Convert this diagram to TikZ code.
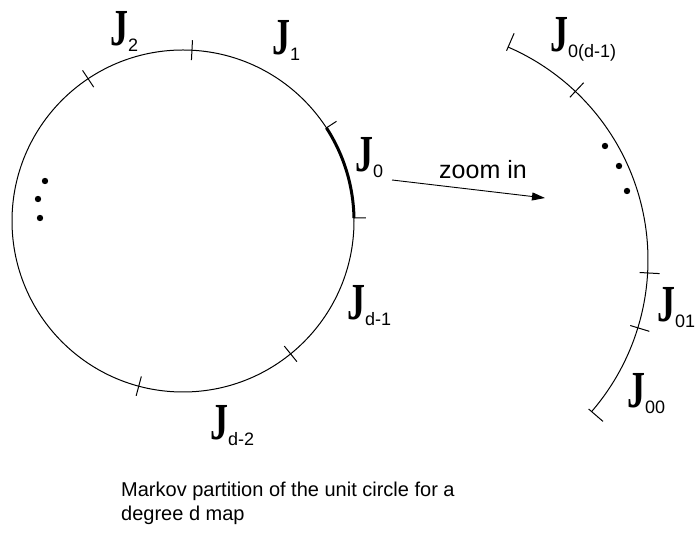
\documentclass[tikz,border=0pt]{standalone}
\usepackage{fontspec}
\setmainfont{Liberation Sans}
\newfontfamily\PieceFont{Liberation Serif}
\usetikzlibrary{positioning,calc,arrows.meta}
\newcommand{\PieceLabel}[1]{\scalebox{0.9}[1.3]{\PieceFont\bfseries\fontsize{40}{40}\selectfont J}\lower6pt\hbox{\fontsize{18}{18}\selectfont #1}}
\newcommand{\ZoomText}{zoom in}
\newcommand{\CaptionText}{Markov partition of the unit circle for a\\degree d map}
\def\UnitRadius{171}
\def\ZoomRadius{232}
\tikzset{
  rim/.style={line width=1pt},
  piece/.style={line width=3pt},
  tickmark/.style={line width=1pt},
  partlabel/.style={anchor=base west,inner sep=0pt},
  dotmark/.style={fill=black},
  signal/.style={-{Triangle[length=13pt,width=8pt]},line width=0.9pt}
}

\begin{document}
\begin{tikzpicture}[x=1pt,y=1pt]
  \useasboundingbox (0,0) rectangle (697,535);
  \coordinate (unit) at (183,314);
  \coordinate (zoom) at (416,275);

  % unit circle with the partition points
  \draw[rim] (unit) circle[radius=\UnitRadius];
  \draw[piece] ([shift={(1:\UnitRadius)}]unit) arc[start angle=1,end angle=33,radius=\UnitRadius];
  \foreach \a in {87,123.7,-51,-105}
    \draw[tickmark] ([shift={(\a:\UnitRadius-10)}]unit) -- ([shift={(\a:\UnitRadius+10)}]unit);
  \foreach \a in {1,33}
    \draw[tickmark] ([shift={(\a:\UnitRadius)}]unit) -- ([shift={(\a:\UnitRadius+12)}]unit);
  \foreach \p in {(45,354),(38,336),(40,317)}
    \fill[dotmark] \p circle[radius=3.2];

  % magnified piece J_0
  \draw[rim] ([shift={(-40.8:\ZoomRadius)}]zoom) arc[start angle=-40.8,end angle=66.6,radius=\ZoomRadius];
  \foreach \a in {46.6,-3.2,-17}
    \draw[tickmark] ([shift={(\a:\ZoomRadius-8)}]zoom) -- ([shift={(\a:\ZoomRadius+12)}]zoom);
  \foreach \a in {-40.8,66.6}
    \draw[tickmark] ([shift={(\a:\ZoomRadius-4)}]zoom) -- ([shift={(\a:\ZoomRadius+15)}]zoom);
  \foreach \p in {(605,389),(619,369),(627,344)}
    \fill[dotmark] \p circle[radius=3.2];

  \node[partlabel] (j2) at (110,489) {\PieceLabel{2}};
  \node[partlabel] (j1) at (272,480) {\PieceLabel{1}};
  \node[partlabel] (j0) at (355,363) {\PieceLabel{0}};
  \node[partlabel] (jd1) at (347,215) {\PieceLabel{d-1}};
  \node[partlabel] (jd2) at (210,95) {\PieceLabel{d-2}};
  \node[partlabel] (j0d1) at (550,483) {\PieceLabel{0(d-1)}};
  \node[partlabel] (j01) at (657,213) {\PieceLabel{01}};
  \node[partlabel] (j00) at (627,127) {\PieceLabel{00}};

  \coordinate (zstart) at (392,355);
  \coordinate (zend) at (545,337);
  \draw[signal] (zstart) -- (zend);
  \node[anchor=base,inner sep=0pt,font=\fontsize{25}{25}\selectfont] (zoomtxt) at (483,356) {\ZoomText};

  \node[anchor=north west,align=left,inner sep=0pt,font=\fontsize{20}{24}\selectfont] (caption) at (121,53) {\CaptionText};
\end{tikzpicture}
\end{document}
